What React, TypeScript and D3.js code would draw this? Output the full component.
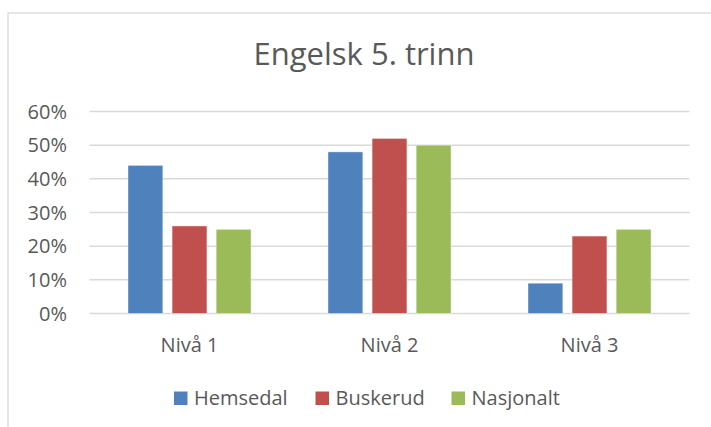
import React from "react";
import * as d3 from "d3";

const categories = ["Nivå 1", "Nivå 2", "Nivå 3"];
const seriesNames = ["Hemsedal", "Buskerud", "Nasjonalt"];
const hemsedal = [0.44, 0.48, 0.09];
const buskerud = [0.26, 0.52, 0.23];
const nasjonalt = [0.25, 0.50, 0.25];
const yTicks = [0, 0.1, 0.2, 0.3, 0.4, 0.5, 0.6];
const colors = ["#4f81bd", "#c0504d", "#9bbb59"];
const title = "Engelsk 5. trinn";

const W = 711;
const H = 427;
const FONT = "'Open Sans', sans-serif";
const TEXT = "#595959";

export default function App() {
  const seriesValues = [hemsedal, buskerud, nasjonalt];
  const plot = { left: 89.5, right: 689.5, top: 111.5, bottom: 313.5 };
  const x0 = d3.scaleBand<string>().domain(categories).range([plot.left, plot.right]).padding(0);
  const groupW = 123;
  const x1 = d3.scaleBand<string>().domain(seriesNames).range([0, groupW]).paddingInner(0.21).paddingOuter(0);
  const y = d3.scaleLinear().domain([0, 0.6]).range([plot.bottom, plot.top]);
  const fmt = d3.format(".0%");

  // legend layout
  const legendItems = [
    { name: "Hemsedal", x: 174 },
    { name: "Buskerud", x: 315.5 },
    { name: "Nasjonalt", x: 451.5 },
  ];

  return (
    <div style={{ position: "absolute", left: 0, top: 0 }}>
      <svg width={W} height={H} style={{ display: "block" }}>
        <rect x={0} y={0} width={W} height={H} fill="#fff" />
        <rect x={8} y={13} width={760} height={460} fill="#fff" stroke="#d9d9d9" strokeWidth={1.3} />
        <text x={364} y={64.5} textAnchor="middle" fontFamily={FONT} fontSize={31} fill={TEXT}>
          {title}
        </text>
        {yTicks.map((t) => (
          <g key={t}>
            <line x1={plot.left} x2={plot.right} y1={y(t)} y2={y(t)} stroke="#d9d9d9" strokeWidth={1.5} />
            <text x={67} y={y(t) + 7} textAnchor="end" fontFamily={FONT} fontSize={20} fill={TEXT}>
              {fmt(t)}
            </text>
          </g>
        ))}
        {categories.map((c, ci) => {
          const gx = (x0(c) as number) + x0.bandwidth() / 2 - groupW / 2;
          return (
            <g key={c}>
              {seriesNames.map((s, si) => {
                const v = seriesValues[si][ci];
                return (
                  <rect
                    key={s}
                    x={gx + (x1(s) as number)}
                    y={y(v)}
                    width={x1.bandwidth()}
                    height={y(0) - y(v)}
                    fill={colors[si]}
                    stroke="#ffffff"
                    strokeOpacity={0.5}
                    strokeWidth={0.8}
                  />
                );
              })}
              <text x={(x0(c) as number) + x0.bandwidth() / 2} y={351.5} textAnchor="middle" fontFamily={FONT} fontSize={20} fill={TEXT}>
                {c}
              </text>
            </g>
          );
        })}
        {legendItems.map((l, i) => (
          <g key={l.name}>
            <rect x={l.x} y={391.5} width={13.5} height={13.5} fill={colors[i]} />
            <text x={l.x + 20} y={405} fontFamily={FONT} fontSize={20} fill={TEXT}>
              {seriesNames[i]}
            </text>
          </g>
        ))}
      </svg>
    </div>
  );
}
